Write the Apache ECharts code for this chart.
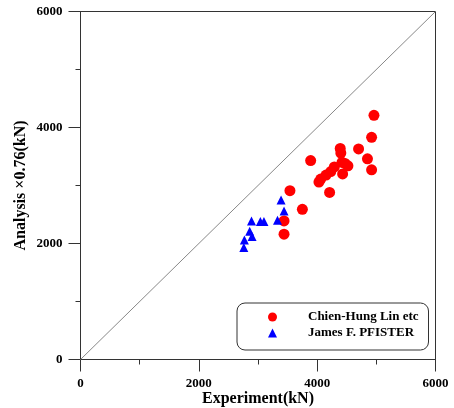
<!DOCTYPE html>
<html>
<head>
<meta charset="utf-8">
<script src="https://cdn.jsdelivr.net/npm/echarts@6/dist/echarts.min.js"></script>
<style>
  html, body { margin: 0; padding: 0; background: #fff; }
  #chart { width: 454px; height: 408px; }
</style>
</head>
<body>
<div id="chart"></div>
<script>
// Experiment (x) vs. reduced analysis (y), both in kN
const linExperiment = [4960, 4920, 4390, 4400, 4700, 3890, 4850, 4920, 4420, 4520,
  4290, 4230, 4150, 4060, 4030, 4430, 4210, 4470, 3540, 3750, 3440, 3440];
const linAnalysis = [4210, 3830, 3640, 3560, 3630, 3430, 3460, 3270, 3400, 3340,
  3320, 3240, 3180, 3110, 3060, 3200, 2880, 3380, 2910, 2590, 2390, 2160];

const pfisterExperiment = [3390, 3440, 3330, 2890, 3040, 3100, 2860, 2900, 2770, 2760];
const pfisterAnalysis = [2750, 2560, 2400, 2390, 2380, 2380, 2210, 2120, 2060, 1930];

const seriesNames = ['Chien-Hung Lin etc', 'James F. PFISTER'];
const axisMin = 0, axisMax = 6000, axisStep = 2000;
const diagonal = [[0, 0], [6000, 6000]];

const pair = (xs, ys) => xs.map((x, i) => [x, ys[i]]);

const serif = '"Liberation Serif", "Times New Roman", serif';
const axisColor = '#333';

function valueAxis(name, nameGap) {
  return {
    type: 'value',
    min: axisMin, max: axisMax, interval: axisStep,
    name: name,
    nameLocation: 'middle',
    nameGap: nameGap,
    nameMoveOverlap: false,
    nameTextStyle: { fontFamily: serif, fontWeight: 'bold', fontSize: 16, color: '#000' },
    axisLine: { show: true, lineStyle: { color: axisColor, width: 1 } },
    axisTick: { show: true, inside: false, length: 12, lineStyle: { color: axisColor } },
    minorTick: { show: true, splitNumber: 2, length: 5, lineStyle: { color: axisColor } },
    splitLine: { show: false },
    axisLabel: {
      fontFamily: serif, fontWeight: 'bold', fontSize: 13, color: '#000', margin: 18,
      formatter: v => String(v)
    }
  };
}

const chart = echarts.init(document.getElementById('chart'), null, { renderer: 'canvas' });
chart.setOption({
  animation: false,
  backgroundColor: '#fff',
  grid: {
    left: 80.5, right: 18.5, top: 11.5, bottom: 48.5,
    outerBoundsMode: 'none',
    containLabel: false,
    show: true, borderColor: axisColor, borderWidth: 1
  },
  xAxis: valueAxis('Experiment(kN)', 31),
  yAxis: valueAxis('Analysis \u00D70.76(kN)', 52),
  legend: {
    orient: 'vertical',
    left: 237, top: 303,
    padding: [6, 10, 9, 31],
    backgroundColor: '#fff',
    borderColor: axisColor, borderWidth: 1, borderRadius: 8,
    itemWidth: 9, itemHeight: 9, itemGap: 0,
    textStyle: {
      fontFamily: serif, fontWeight: 'bold', fontSize: 13, color: '#000',
      lineHeight: 16, padding: [0, 0, 0, 26]
    },
    data: [
      { name: seriesNames[0], icon: 'circle' },
      { name: seriesNames[1], icon: 'triangle' }
    ]
  },
  series: [
    {
      type: 'line',
      data: diagonal,
      symbol: 'none',
      silent: true,
      lineStyle: { color: '#888', width: 1 },
      z: 1
    },
    {
      name: seriesNames[0],
      type: 'scatter',
      data: pair(linExperiment, linAnalysis),
      symbol: 'circle',
      symbolSize: 11,
      itemStyle: { color: '#ff0000', opacity: 1 },
      z: 3
    },
    {
      name: seriesNames[1],
      type: 'scatter',
      data: pair(pfisterExperiment, pfisterAnalysis),
      symbol: 'triangle',
      symbolSize: 9,
      itemStyle: { color: '#0000ff', opacity: 1 },
      z: 4
    }
  ]
});
</script>
</body>
</html>
